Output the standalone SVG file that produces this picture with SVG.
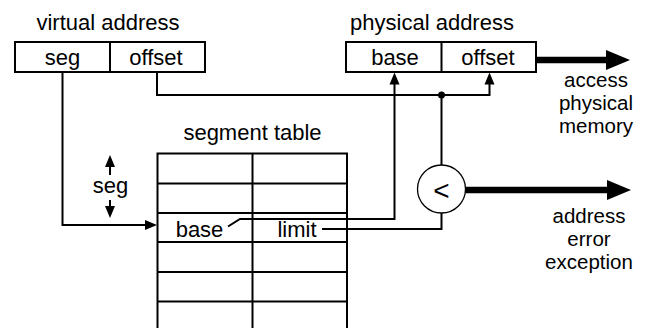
<svg xmlns="http://www.w3.org/2000/svg" width="650" height="328" viewBox="0 0 650 328">
<style>
  text { font-family: "Liberation Sans", Arial, Helvetica, sans-serif; font-size: 22px; fill: #000; text-anchor: middle; }
  .multi { font-size: 20.5px; }
  .box { fill: #fff; stroke: #000; stroke-width: 2; }
  .ln { fill: none; stroke: #000; stroke-width: 2; }
  .thick { fill: none; stroke: #000; stroke-width: 6.5; }
  .thin { fill: #fff; stroke: #000; stroke-width: 1.3; }
</style>
<defs>
  <marker id="arr" markerUnits="userSpaceOnUse" markerWidth="12" markerHeight="10" refX="6" refY="5" orient="auto" overflow="visible">
    <path d="M0,0 L12,5 L0,10 Z" fill="#000"/>
  </marker>
  <marker id="big" markerUnits="userSpaceOnUse" markerWidth="24" markerHeight="20" refX="12" refY="10" orient="auto" overflow="visible">
    <path d="M0,0 L24,10 L0,20 Z" fill="#000"/>
  </marker>
</defs>
<rect width="650" height="328" fill="#fff"/>

<g id="virtual-address">
  <text x="108" y="30">virtual address</text>
  <rect class="box" x="15" y="42" width="190" height="30"/>
  <line class="ln" x1="110" y1="42" x2="110" y2="72"/>
  <text x="62.5" y="65">seg</text>
  <text x="156" y="65">offset</text>
</g>

<g id="physical-address">
  <text x="432" y="30">physical address</text>
  <rect class="box" x="346" y="42" width="190" height="30"/>
  <line class="ln" x1="441.5" y1="42" x2="441.5" y2="72"/>
  <text x="395" y="65">base</text>
  <text x="488" y="65">offset</text>
</g>

<g id="segment-table">
  <text x="252.5" y="140">segment table</text>
  <path class="ln" d="M157.5,328 V153.5 H347 V328 M252.5,153.5 V328 M157.5,183.5 H347 M157.5,213 H347 M157.5,242 H347 M157.5,272 H347 M157.5,301.5 H347"/>
  <text x="199.5" y="236.5">base</text>
  <text x="297" y="236.5">limit</text>
</g>

<g id="seg-label">
  <line class="ln" x1="110" y1="175" x2="110" y2="161" marker-end="url(#arr)"/>
  <text x="110.5" y="193">seg</text>
  <line class="ln" x1="110" y1="200" x2="110" y2="212" marker-end="url(#arr)"/>
</g>

<g id="comparator">
  <circle class="thin" cx="441.5" cy="189" r="24"/>
  <text x="441.5" y="200" style="font-size:28px">&lt;</text>
</g>

<g id="access-label">
  <text class="multi" x="596" y="87"><tspan x="596" y="87">access</tspan><tspan x="596" y="110">physical</tspan><tspan x="596" y="133">memory</tspan></text>
</g>

<g id="error-label">
  <text class="multi" x="589" y="223"><tspan x="589" y="223">address</tspan><tspan x="589" y="246">error</tspan><tspan x="589" y="269">exception</tspan></text>
</g>

<g id="connectors">
  <path class="ln" d="M62.5,72 V225 H151" marker-end="url(#arr)"/>
  <path class="ln" d="M157,72 V95 H489.5 V78.5" marker-end="url(#arr)"/>
  <path class="ln" d="M228,226.5 L240,219 H394.5 V78.5" marker-end="url(#arr)"/>
  <path class="ln" d="M322,229 H441.5 V213"/>
  <line class="ln" x1="441.5" y1="95" x2="441.5" y2="165"/>
  <circle cx="441.5" cy="95" r="3.5" fill="#000"/>
  <line class="thick" x1="536" y1="60" x2="618" y2="60" marker-end="url(#big)"/>
  <line class="thick" x1="465.5" y1="190" x2="619" y2="190" marker-end="url(#big)"/>
</g>
</svg>
